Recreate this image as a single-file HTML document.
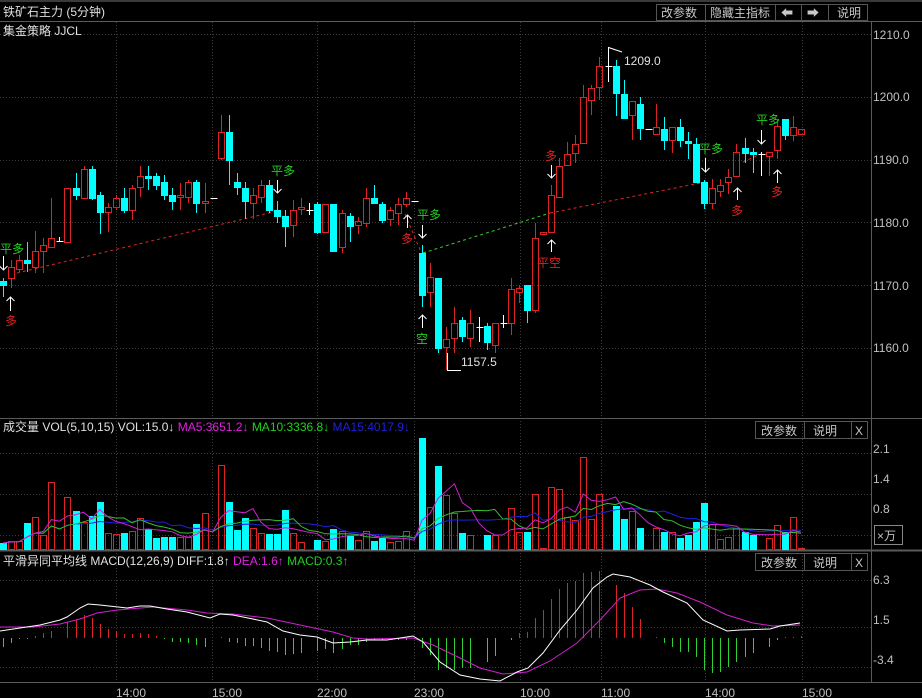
<!DOCTYPE html>
<html><head><meta charset="utf-8">
<style>
html,body{margin:0;padding:0;background:#000;width:922px;height:698px;overflow:hidden}
svg{display:block}
text{font-family:"Liberation Sans","Noto Sans CJK SC",sans-serif;font-size:12px}
</style></head>
<body>
<svg id="s" width="922" height="698" xmlns="http://www.w3.org/2000/svg">
<rect width="922" height="698" fill="#000"/>
<g id="grid"></g>
<!-- borders -->
<line x1="0" y1="21.5" x2="922" y2="21.5" stroke="#5a5a5a"/>
<line x1="0" y1="1" x2="922" y2="1" stroke="#3a3a3a" stroke-width="2"/>
<line x1="871.5" y1="21" x2="871.5" y2="683" stroke="#5a5a5a"/>
<line x1="0" y1="418.5" x2="922" y2="418.5" stroke="#5a5a5a"/>
<line x1="0" y1="550.5" x2="922" y2="550.5" stroke="#5a5a5a" stroke-width="2"/>
<line x1="0" y1="682.5" x2="922" y2="682.5" stroke="#5a5a5a"/>
<g id="draw"></g>
<!-- header texts -->
<text x="3" y="16" fill="#e0e0e0">铁矿石主力 (5分钟)</text>
<text x="3" y="35" fill="#e0e0e0">集金策略 JJCL</text>
<g fill="none" stroke="#555">
<rect x="656.5" y="4.5" width="49" height="16"/><rect x="705.5" y="4.5" width="70" height="16"/>
<rect x="775.5" y="4.5" width="26" height="16"/><rect x="801.5" y="4.5" width="27" height="16"/>
<rect x="828.5" y="4.5" width="39" height="16"/>
</g>
<g fill="#c8c8c8">
<text x="661" y="17">改参数</text><text x="710" y="17">隐藏主指标</text>
<text x="781" y="17">⬅</text><text x="807" y="17">➡</text><text x="837" y="17">说明</text>
</g>
<!-- right axis labels -->
<g fill="#c0c0c0">
<text x="873" y="39">1210.0</text><text x="873" y="101">1200.0</text><text x="873" y="164">1190.0</text>
<text x="873" y="227">1180.0</text><text x="873" y="290">1170.0</text><text x="873" y="352">1160.0</text>
<text x="873" y="453">2.1</text><text x="873" y="483">1.4</text><text x="873" y="513">0.8</text>
<text x="873" y="584">6.3</text><text x="873" y="624">1.5</text><text x="873" y="664">-3.4</text>
</g>
<rect x="874.5" y="525.5" width="28" height="19" fill="none" stroke="#888"/>
<text x="877" y="540" fill="#c0c0c0">×万</text>
<!-- volume header -->
<text x="3" y="431" fill="#e0e0e0">成交量 VOL(5,10,15) VOL:15.0↓ <tspan fill="#e020e0">MA5:3651.2↓</tspan> <tspan fill="#20d020">MA10:3336.8↓</tspan> <tspan fill="#2020e0">MA15:4017.9↓</tspan></text>
<text x="3" y="565" fill="#e0e0e0">平滑异同平均线 MACD(12,26,9) DIFF:1.8↑ <tspan fill="#e020e0">DEA:1.6↑</tspan> <tspan fill="#20d020">MACD:0.3↑</tspan></text>
<g fill="none" stroke="#555">
<rect x="755.5" y="421.5" width="49" height="17"/><rect x="804.5" y="421.5" width="47" height="17"/><rect x="851.5" y="421.5" width="16" height="17"/>
<rect x="755.5" y="553.5" width="49" height="17"/><rect x="804.5" y="553.5" width="47" height="17"/><rect x="851.5" y="553.5" width="16" height="17"/>
</g>
<g fill="#c8c8c8">
<text x="761" y="435">改参数</text><text x="813" y="435">说明</text><text x="855" y="435">X</text>
<text x="761" y="567">改参数</text><text x="813" y="567">说明</text><text x="855" y="567">X</text>
</g>
<!-- time axis -->
<g fill="#c0c0c0">
<text x="116" y="697">14:00</text><text x="212" y="697">15:00</text><text x="317" y="697">22:00</text><text x="414" y="697">23:00</text>
<text x="520" y="697">10:00</text><text x="601" y="697">11:00</text><text x="705" y="697">14:00</text><text x="802" y="697">15:00</text>
</g>
<!-- signal labels -->
<g font-size="11">
<text x="0" y="253" fill="#20d020" font-size="11">平多</text>
<text x="5" y="325" fill="#e02020" font-size="11">多</text>
<text x="271" y="175" fill="#20d020" font-size="11">平多</text>
<text x="401" y="243" fill="#e02020" font-size="11">多</text>
<text x="417" y="219" fill="#20d020" font-size="11">平多</text>
<text x="416" y="343" fill="#20d020" font-size="11">空</text>
<text x="545" y="160" fill="#e02020" font-size="11">多</text>
<text x="537" y="267" fill="#e02020" font-size="11">平空</text>
<text x="699" y="153" fill="#20d020" font-size="11">平多</text>
<text x="731" y="215" fill="#e02020" font-size="11">多</text>
<text x="756" y="124" fill="#20d020" font-size="11">平多</text>
<text x="771" y="196" fill="#e02020" font-size="11">多</text>
</g>
<text x="461" y="366" fill="#e0e0e0">1157.5</text>
<text x="624" y="65" fill="#e0e0e0">1209.0</text>
</svg>
<script>
(function(){
var NS="http://www.w3.org/2000/svg";
var g=document.getElementById("draw"),gr=document.getElementById("grid");
function el(p,t,a){var e=document.createElementNS(NS,t);for(var k in a)e.setAttribute(k,a[k]);p.appendChild(e);return e;}
var RED="#dc2424",CY="#00ffff",WH="#ffffff";
// grid
[116,212,317,414,520,601,705,802].forEach(function(x){
 el(gr,"line",{x1:x+.5,y1:22,x2:x+.5,y2:682,stroke:"#3c3c3c","stroke-dasharray":"1,2"});});
[34,97,159.5,222,285,348,453,494,535,580,627,667].forEach(function(y){
 el(gr,"line",{x1:0,y1:Math.round(y)+.5,x2:871,y2:Math.round(y)+.5,stroke:"#3c3c3c","stroke-dasharray":"1,2"});});
var C=[
["c",281,285,278,297],["r",267,278,260,288],["r",260,269,255,272],["c",260,263,242,272],["r",251,267,231,273],
["r",245,251,238,273],["r",238,247,198,248],["w",241,241,237,241],["r",188,242,188,242],["c",188,195,173,200],
["r",169,198,166,198],["c",169,198,166,200],["c",195,212,192,234],["r",207,212,203,232],["r",198,207,195,210],
["c",198,210,188,213],["r",188,210,185,220],["r",176,187,166,197],["c",176,178,166,190],["c",176,185,173,190],
["c",182,195,175,200],["c",195,201,188,210],["r",195,197,183,210],["r",182,197,180,203],["c",182,203,180,213],
["r",201,203,183,213],["w",198,198,198,198],["r",132,158,115,160],["c",132,160,115,185],["c",182,187,173,195],
["c",188,201,182,219],["r",195,203,188,219],["r",185,197,180,203],["c",185,210,180,213],["c",210,216,201,223],
["c",216,226,210,247],["r",210,225,200,237],["r",207,209,198,215],["w",210,210,203,215],["c",204,232,202,234],
["r",204,232,204,232],["c",204,251,204,251],["r",213,247,210,253],["c",216,226,213,242],["r",221,225,217,234],
["r",198,223,188,227],["c",198,203,185,203],["c",204,220,202,223],["r",210,219,207,226],["r",204,213,198,225],
["r",198,204,192,207],["w",201,201,201,201],["c",253,295,245,307],["r",277,292,263,307],["c",278,348,278,353],
["r",339,347,327,370],["r",323,338,307,353],["c",320,336,317,342],["r",323,338,310,347],["w",327,327,317,342],
["c",326,342,323,350],["r",323,345,323,353],["w",323,323,315,328],["r",289,323,278,335],["r",288,292,285,303],
["c",285,310,285,323],["r",238,310,223,313],["r",232,234,232,234],["r",195,232,185,232],["r",166,197,158,197],
["r",154,165,142,165],["r",144,153,135,163],["r",97,143,85,143],["r",88,100,85,115],["r",66,87,57,100],
["w",66,66,47,82],["c",66,93,60,116],["c",94,118,80,118],["r",101,115,101,140],["c",104,128,97,140],
["w",129,129,129,129],["r",127,134,104,134],["c",129,140,117,150],["r",127,140,127,153],["c",127,140,119,147],
["c",141,143,132,159],["c",144,182,138,183],["c",182,203,180,209],["r",188,203,179,209],["r",185,191,179,197],
["r",177,182,169,194],["r",152,176,144,177],["c",148,153,138,163],["c",152,154,148,173],["w",154,154,152,176],
["r",152,156,152,176],["r",126,150,120,159],["c",119,135,119,140],["r",127,135,116,141],["r",129,134,129,134]];
var V=[543,541,541,523,517,535,482,549,497,511,522,516,502,533,534,533,531,518,529,538,537,537,537,537,524,513,549,465,502,530,518,528,533,534,534,510,533,542,543,540,541,529,531,536,540,531,541,538,542,541,531,549,438,507,466,495,513,533,535,537,535,535,533,508,532,532,494,548,487,489,517,520,457,519,494,509,506,519,511,528,549,528,532,532,538,535,522,503,524,539,537,528,532,535,541,538,525,532,517,548];
var H=[647,643,639,639,636,633,631,631,622,620,615,618,624,629,631,634,634,633,634,636,639,642,642,643,645,647,648,637,642,643,646,646,648,651,652,655,654,653,651,651,649,653,649,645,645,642,640,640,640,640,640,640,648,655,670,668,670,668,668,663,662,656,650,640,633,632,618,610,599,589,583,581,573,572,571,573,585,593,607,619,629,637,643,647,652,652,657,670,673,672,667,662,657,653,649,647,640,637,637,636];
function X(i){return 3+8.06*i;}
// dashed signal lines
function pl(pts,col){el(g,"polyline",{points:pts,fill:"none",stroke:col,"stroke-dasharray":"3,3"});}
pl("17,273 273,212",RED);pl("405,214 421,252",RED);pl("423,253 550,213","#30d030");pl("550,213 700,183",RED);pl("743,162 763,153",RED);
// candles
C.forEach(function(c,i){
 var x=Math.round(X(i))+.5,col=c[0]=="r"?RED:c[0]=="c"?CY:WH;
 if(c[0]=="w"){el(g,"line",{x1:x-3,y1:c[1]+.5,x2:x+4,y2:c[1]+.5,stroke:WH});
   if(c[3]!=c[4])el(g,"line",{x1:x,y1:c[3],x2:x,y2:c[4],stroke:WH});return;}
 if(c[3]<c[1])el(g,"line",{x1:x,y1:c[3],x2:x,y2:c[1],stroke:col});
 if(c[4]>c[2])el(g,"line",{x1:x,y1:c[2],x2:x,y2:c[4],stroke:col});
 var h=Math.max(c[2]-c[1],1);
 if(c[0]=="r")el(g,"rect",{x:x-3,y:c[1]+.5,width:6,height:h,fill:"none",stroke:RED});
 else el(g,"rect",{x:x-3.5,y:c[1],width:7,height:h+1,fill:CY});
 // volume
 var vt=V[i];if(vt<549){
  if(c[0]=="r")el(g,"rect",{x:x-3,y:vt+.5,width:6,height:549-vt,fill:"none",stroke:RED});
  else el(g,"rect",{x:x-3.5,y:vt,width:7,height:550-vt,fill:col});}
 // macd hist
 var hy=H[i],z=638;
 if(Math.abs(hy-z)>=1)el(g,"line",{x1:x,y1:z,x2:x,y2:hy,stroke:hy<z?RED:"#30d030"});
});
// volume MAs
function ma(n,col){var pts=[];for(var i=0;i<V.length;i++){var s=0,k=0;for(var j=Math.max(0,i-n+1);j<=i;j++){s+=549-V[j];k++;}pts.push(X(i).toFixed(1)+","+(549-s/k).toFixed(1));}
 el(g,"polyline",{points:pts.join(" "),fill:"none",stroke:col});}
ma(15,"#2020e0");ma(10,"#30c030");ma(5,"#d020d0");
// MACD lines
el(g,"polyline",{points:"0,627 33,627 60,624 80,619 97,613 117,610 153,607 187,610 207,613 233,614 267,618 300,625 333,632 353,638 367,639 413,638 433,645 460,658 480,668 503,674 527,672 550,661 577,643 600,620 620,598 640,590 657,589 677,593 700,602 727,615 753,623 773,626 800,625",fill:"none",stroke:"#d020d0"});
el(g,"polyline",{points:"0,631 20,628 40,625 60,620 67,617 80,608 88,604 100,605 127,608 140,606 150,606 167,609 187,612 210,618 220,614 233,615 253,619 267,622 283,631 300,635 317,637 333,643 350,642 367,640 387,640 413,636 423,642 440,662 460,675 480,679 500,681 517,672 528,668 543,653 560,630 577,610 593,588 607,577 613,574 630,577 650,585 663,592 687,603 703,620 727,631 740,630 770,629 780,626 800,623",fill:"none",stroke:"#ffffff"});
// arrows
function arr(x,y1,y2){el(g,"line",{x1:x+.5,y1:y1,x2:x+.5,y2:y2,stroke:WH});
 var d=y2>y1?-4:4;el(g,"polyline",{points:(x-3.5)+","+(y2+d)+" "+(x+.5)+","+y2+" "+(x+4.5)+","+(y2+d),fill:"none",stroke:WH});}
arr(3,256,270);arr(10,311,297);arr(277,180,193);arr(407,228,215);arr(422,225,238);arr(422,328,315);
arr(551,165,178);arr(551,252,240);arr(705,158,172);arr(737,200,188);arr(761,130,144);arr(777,183,170);
// extremes markers
el(g,"polyline",{points:"447.5,353 447.5,370.5 461,370.5",fill:"none",stroke:WH});
el(g,"polyline",{points:"608.5,65 608.5,47.5 622,52",fill:"none",stroke:WH});
})();
</script>
</body></html>
